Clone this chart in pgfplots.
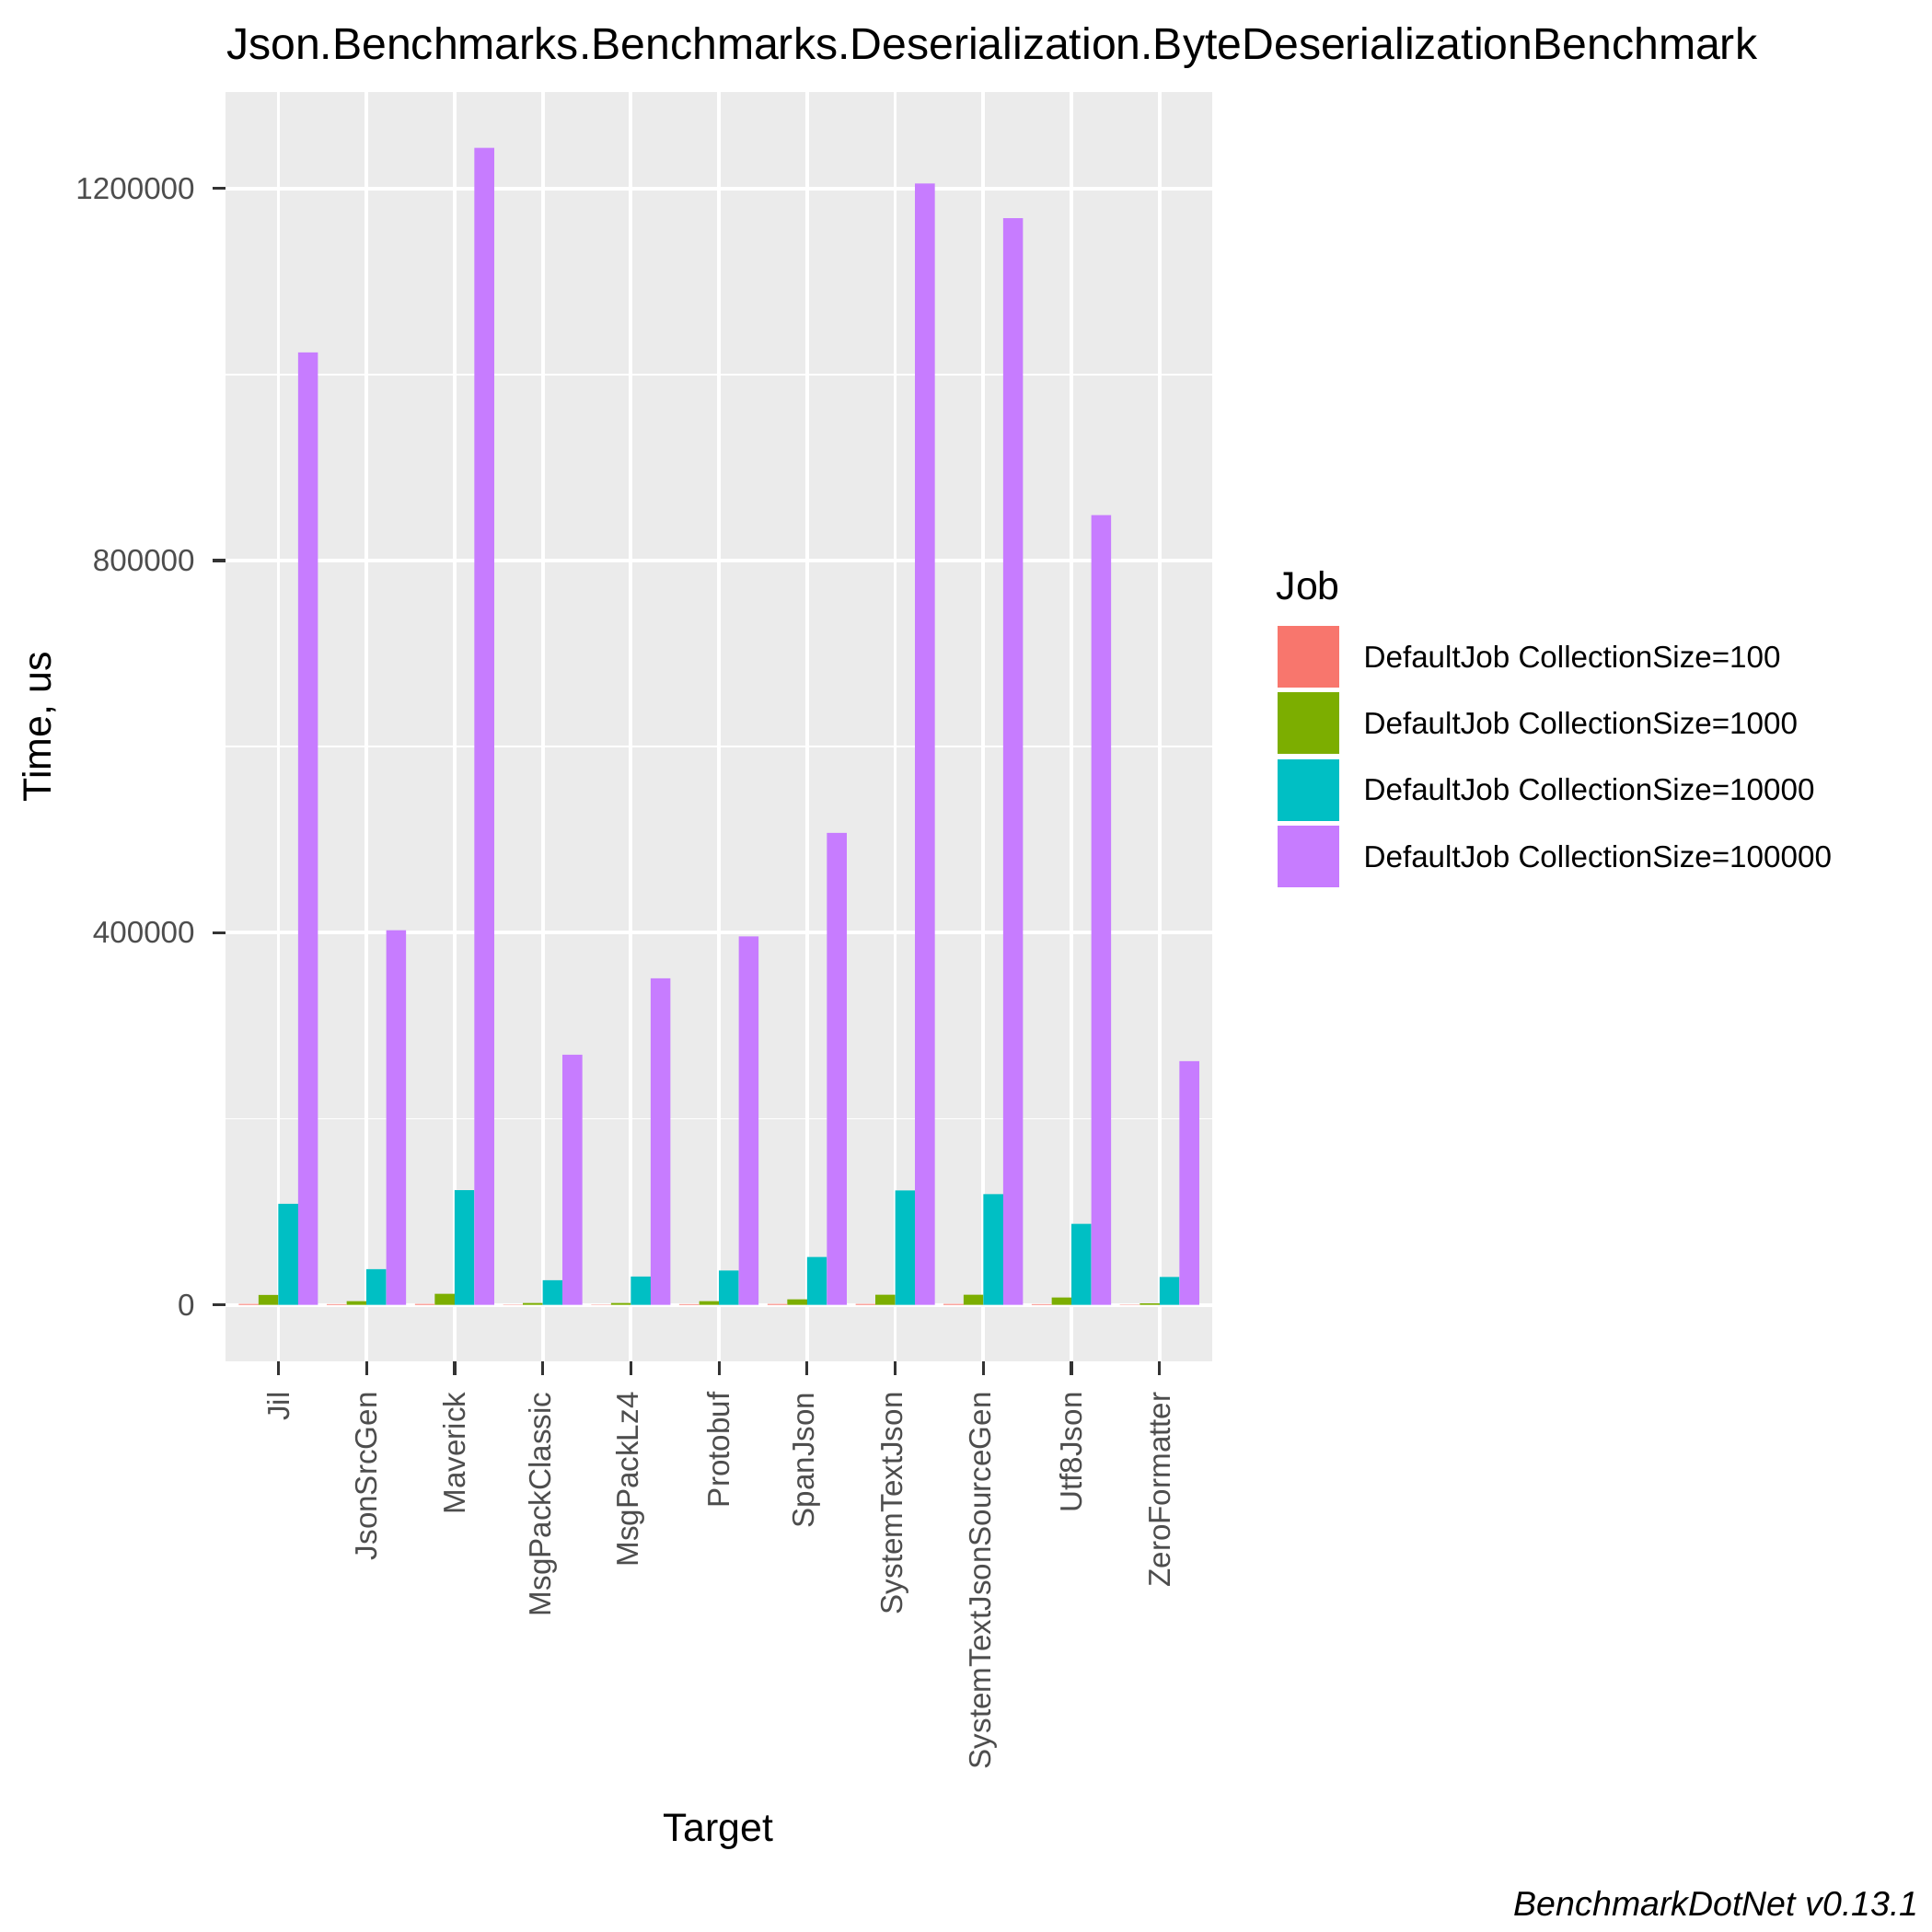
\documentclass[border=0pt]{standalone}
\usepackage{pgfplots}
\pgfplotsset{compat=1.18}
\usepackage{fontspec}
\setmainfont{Liberation Sans}
\definecolor{cA}{HTML}{F8766D}
\definecolor{cB}{HTML}{7CAE00}
\definecolor{cC}{HTML}{00BFC4}
\definecolor{cD}{HTML}{C77CFF}
\definecolor{panel}{HTML}{EBEBEB}
\definecolor{txt}{HTML}{4D4D4D}
\definecolor{tck}{HTML}{333333}
\begin{document}
\begin{tikzpicture}
\useasboundingbox (-45.75bp,-115.75bp) rectangle (346.25bp,276.25bp);
\begin{axis}[
  at={(0,0)}, anchor=south west,
  scale only axis, width=200.25bp, height=257.5bp,
  xmin=-0.6, xmax=10.6, ymin=-60900, ymax=1303300,
  axis background/.style={fill=panel}, axis line style={draw=none},
  xtick={0,...,10},
  xticklabels={Jil,JsonSrcGen,Maverick,MsgPackClassic,MsgPackLz4,Protobuf,SpanJson,SystemTextJson,SystemTextJsonSourceGen,Utf8Json,ZeroFormatter},
  x tick label style={rotate=90, anchor=east, font=\fontsize{6.2bp}{7bp}\selectfont, text=txt},
  ytick={0,400000,800000,1200000},
  minor ytick={-200000,200000,600000,1000000},
  yticklabels={0,400000,800000,1200000},
  y tick label style={font=\fontsize{6.2bp}{7bp}\selectfont, text=txt},
  scaled y ticks=false,
  grid=both,
  major grid style={white, line width=0.7bp},
  minor grid style={white, line width=0.35bp},
  tick style={tck, line width=0.6bp},
  major tick length=2.7bp, minor tick length=0pt,
  tick align=outside, xtick pos=bottom, ytick pos=left,
  ybar=0pt, bar width=0.225,
]
\addplot[fill=cA, draw=none, bar shift=-0.3375] coordinates {(0,1000)(1,800)(2,1000)(3,300)(4,300)(5,700)(6,900)(7,1000)(8,1000)(9,800)(10,300)};
\addplot[fill=cB, draw=none, bar shift=-0.1125] coordinates {(0,10600)(1,4000)(2,12000)(3,2000)(4,2000)(5,4000)(6,6000)(7,11000)(8,11000)(9,8000)(10,1500)};
\addplot[fill=cC, draw=none, bar shift=0.1125] coordinates {(0,108600)(1,38400)(2,123200)(3,26500)(4,30500)(5,37000)(6,51600)(7,123000)(8,119000)(9,87000)(10,30000)};
\addplot[fill=cD, draw=none, bar shift=0.3375] coordinates {(0,1023800)(1,402600)(2,1243700)(3,268900)(4,351000)(5,396000)(6,507300)(7,1205300)(8,1168000)(9,849000)(10,262000)};
\end{axis}
\node[anchor=base west, font=\fontsize{9bp}{10bp}\selectfont, inner sep=0] at (0,264.25bp) {Json.Benchmarks.Benchmarks.Deserialization.ByteDeserializationBenchmark};
\node[anchor=base west, font=\fontsize{8bp}{9bp}\selectfont, inner sep=0] at (213bp,154.5bp) {Job};
\foreach \c/\t [count=\i from 0] in {cA/100,cB/1000,cC/10000,cD/100000}{
  \fill[\c] (213.5bp,149.25bp-\i*13.5bp) rectangle (226bp,136.75bp-\i*13.5bp);
  \node[anchor=west, font=\fontsize{6.2bp}{7bp}\selectfont, inner sep=0] at (230.75bp,143bp-\i*13.5bp) {DefaultJob CollectionSize=\t};
}
\node[font=\fontsize{8bp}{9bp}\selectfont, inner sep=0] at (100bp,-95.5bp) {Target};
\node[rotate=90, font=\fontsize{8bp}{9bp}\selectfont, inner sep=0] at (-37.75bp,128.75bp) {Time, us};
\node[anchor=base east, font=\fontsize{7bp}{8bp}\selectfont\itshape, inner sep=0] at (343.75bp,-112.5bp) {BenchmarkDotNet v0.13.1};
\end{tikzpicture}
\end{document}
